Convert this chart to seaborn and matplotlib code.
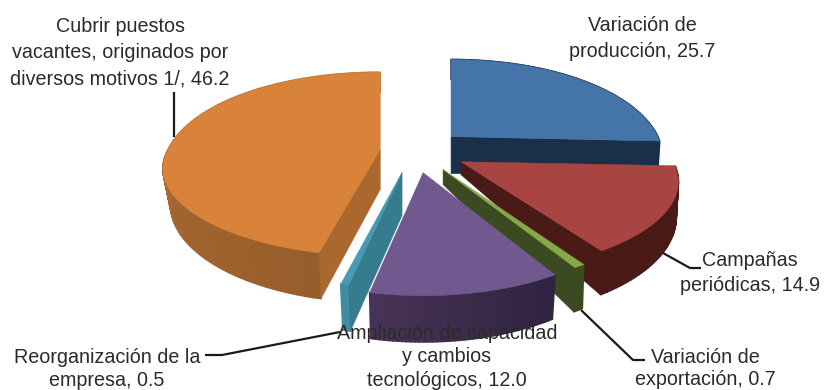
import numpy as np
import matplotlib
matplotlib.use("Agg")
import matplotlib.pyplot as plt
import seaborn as sns

sns.set_theme(style="white")
plt.rcParams["font.family"] = ["Liberation Sans", "DejaVu Sans"]

# Share of each reason, clockwise from twelve o'clock
categories = [
    "Variación de\nproducción",
    "Campañas\nperiódicas",
    "Variación de\nexportación",
    "Ampliación de capacidad\ny cambios\ntecnológicos",
    "Reorganización de la\nempresa",
    "Cubrir puestos\nvacantes, originados por\ndiversos motivos 1/",
]
values = [25.7, 14.9, 0.7, 12.0, 0.5, 46.2]

top_colors = ["#4474A8", "#A84442", "#85A848", "#71588F", "#469AB4", "#D8823A"]
cut_colors = ["#1A2F4A", "#4A1A17", "#3B4A20", "#2E2340", "#367C8F", "#AA672E"]
rim_start = ["#1A2F4A", "#4A1A17", "#3B4A20", "#2E2340", "#3F8CA3", "#965E2B"]
rim_end = ["#1A2F4A", "#4A1A17", "#3B4A20", "#483356", "#3F8CA3", "#C0763A"]

# Drawing geometry in canvas pixels
explode = [0.95, 1.0, 1.0, 1.0, 1.0, 0.63]
width_scale = [0.975, 1.0, 1.0, 1.0, 1.0, 1.0]
front_scale = [1.0, 0.9, 0.96, 1.0, 0.94, 0.87]
under_scale = [0.99, 0.99, 0.99, 0.98, 0.965, 0.965]
apex_depth = [37, 13, 15, 40, 43, 40]
draw_order = [0, 5, 1, 2, 4, 3]

label_xy = [(642, 38.5), (750, 273), (705, 368.5), (447, 357), (107, 369), (120, 53)]
line_gap = [1.45, 1.45, 1.25, 1.33, 1.27, 1.48]
leaders = [
    None,
    [(663, 253), (690, 268), (701, 268)],
    [(581, 310), (633, 360), (645, 360)],
    None,
    [(205, 355), (222, 355), (340, 332)],
    [(174, 137), (174, 92)],
]

fig = plt.figure(figsize=(8.25, 3.9), dpi=100)
ax = fig.add_axes([0, 0, 1, 1])
ax.set_xlim(0, 825)
ax.set_ylim(390, 0)
ax.axis("off")

edges = np.radians(np.concatenate([[0], np.cumsum(values)]) * 3.6)


def rim_point(i, apex, theta):
    """Top-face rim point seen with a mild forward perspective."""
    near = -np.cos(theta)
    scale = 1 + 0.23 * near
    drop = 100 * near * scale
    if near > 0:
        drop *= front_scale[i]
    return apex[0] + 212 * width_scale[i] * np.sin(theta) * scale, apex[1] + drop


def lower_point(i, apex, x, y, theta):
    """Matching point on the underside, drawn slightly smaller."""
    return apex[0] + (x - apex[0]) * under_scale[i], y + 33 * (1 + 0.4 * -np.cos(theta))


def poly(xy, color, z, lw=0.4):
    ax.fill(*zip(*xy), facecolor=color, edgecolor=color, lw=lw, zorder=z)


for rank, i in enumerate(draw_order):
    start, end = edges[i], edges[i + 1]
    mid = (start + end) / 2
    apex = (414 + 54 * explode[i] * np.sin(mid), 151 - 22 * explode[i] * np.cos(mid))
    thetas = np.linspace(start, end, max(int(np.degrees(end - start)), 2) + 1)
    z = 2 + rank
    c0 = np.array(matplotlib.colors.to_rgb(rim_start[i]))
    c1 = np.array(matplotlib.colors.to_rgb(rim_end[i]))

    # Outer wall, shaded in narrow strips along the arc
    for k in range(len(thetas) - 1):
        t0, t1 = thetas[k], thetas[k + 1]
        x0, y0 = rim_point(i, apex, t0)
        x1, y1 = rim_point(i, apex, t1)
        w = k / max(len(thetas) - 2, 1)
        poly([(x0, y0), (x1, y1), lower_point(i, apex, x1, y1, t1), lower_point(i, apex, x0, y0, t0)],
             c0 + (c1 - c0) * w, z, lw=1.2)

    # Cut faces that turn toward the viewer
    for theta, facing in ((end, np.sin(end) > 0), (start, np.sin(start) < 0)):
        if facing:
            x, y = rim_point(i, apex, theta)
            poly([apex, (x, y), lower_point(i, apex, x, y, theta), (apex[0], apex[1] + apex_depth[i])],
                 cut_colors[i], z)

    # Top face
    poly([apex] + [rim_point(i, apex, t) for t in thetas], top_colors[i], z)

for name, val, (lx, ly), path, gap in zip(categories, values, label_xy, leaders, line_gap):
    if path:
        ax.plot(*zip(*path), color="#1a1a1a", lw=1.6, zorder=20, solid_capstyle="butt")
    ax.text(lx, ly, f"{name}, {val:.1f}", ha="center", va="center", fontsize=14.2,
            color="#2b2b2b", linespacing=gap, zorder=30)

fig.savefig("out.png", dpi=100)
